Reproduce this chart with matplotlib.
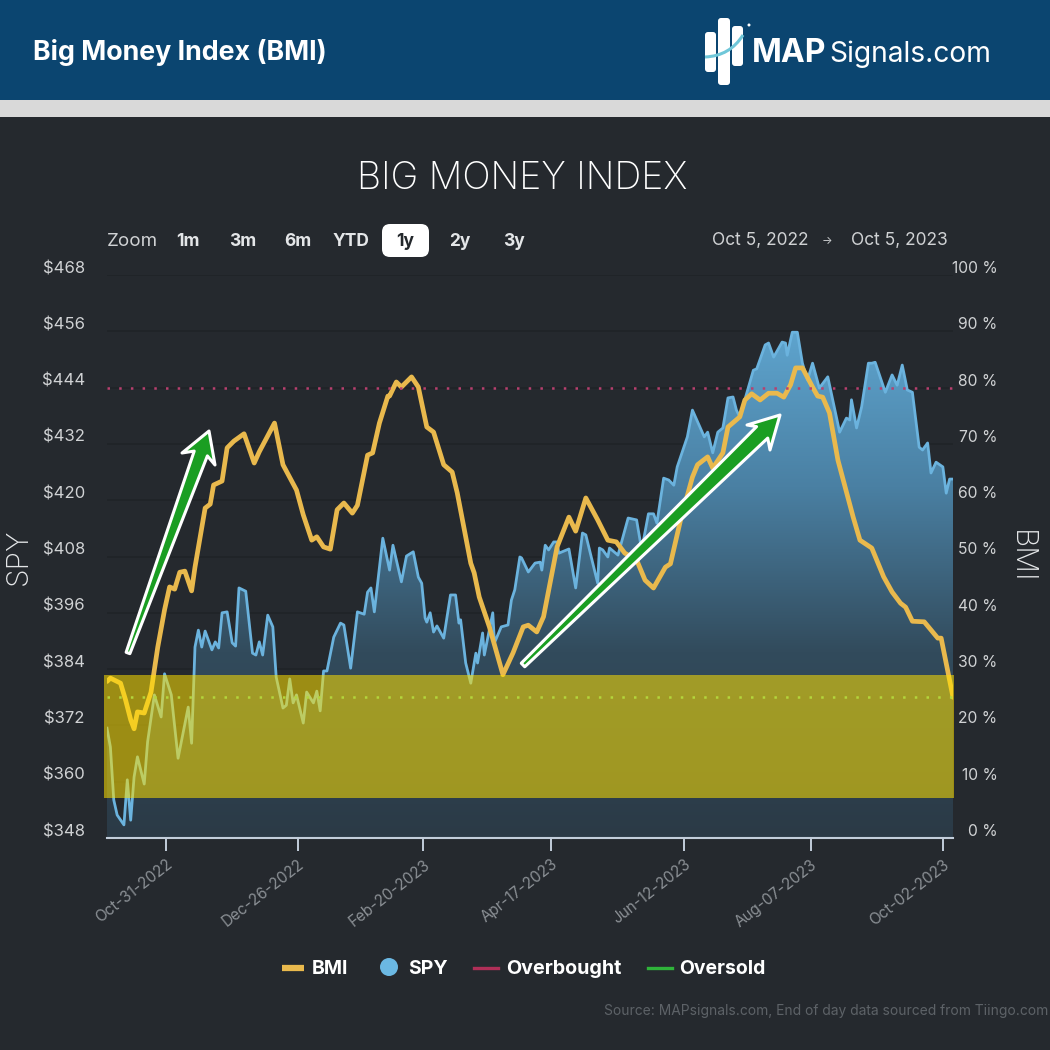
import matplotlib
matplotlib.use("Agg")
import matplotlib.pyplot as plt
import numpy as np
from matplotlib.patches import Rectangle, FancyBboxPatch, Circle, Polygon, PathPatch
from matplotlib.path import Path
from matplotlib.transforms import ScaledTranslation

plt.rcParams['font.family'] = ['Inter', 'DejaVu Sans']

# x positions are trading sessions counted from Oct 5, 2022
spy_x = [0, 1, 2, 3, 5, 6, 7, 8, 9, 11, 12, 14, 16, 17, 19, 21, 24, 25, 26, 27, 28, 29, 31, 32, 33, 34, 35.5, 37, 38, 39,
         41, 43, 44, 45, 46, 47.5, 49, 50, 52, 53, 54, 55, 56, 58, 59, 61, 62, 63, 64, 65, 67, 69, 70, 72, 74, 76, 77, 78, 79,
         81.5, 83.5, 84.5, 87, 88.5, 90.5, 92, 93, 94, 94.5, 95.5, 96.5, 97.5, 99.5, 101.5, 103, 104, 104.5, 106, 107.5,
         109, 109.5, 111, 111.5, 114, 114.5, 116.5, 118.5, 119.5, 120.5, 122, 122.5, 124.5, 126.5, 128, 128.5, 129.5, 130.5,
         132, 133, 133.5, 136.5, 138.5, 140.5, 141.5, 145, 145.5, 146.5, 148, 148.5, 151, 154, 156.5, 158, 160, 161.5, 162.5,
         164.5, 166, 167.5, 168.5, 171.5, 173, 176.5, 177.5, 179, 180.5, 182, 183.5, 185, 186, 187, 191, 192, 194.5, 195.5,
         197, 199.5, 200.5, 201, 202.5, 204, 205.5, 207, 208.5, 210.5, 213, 216.5, 218.5, 219.5, 220, 221.5, 223, 225, 226,
         227, 230, 232, 233.5, 235, 236.5, 238, 240, 241, 242.5, 243.5, 245, 247, 248, 249, 250]
spy_close = [371.4, 367.4, 356.1, 352.9, 350.8, 360.4, 351.8, 361, 365.3, 359.5, 368.5, 378.5, 373.8, 383, 378.5, 365, 375.9, 368.2, 388.7, 392.3, 388.7, 392.1, 388.1, 389.8, 388.5, 396, 396.2, 389.6, 388.9, 401.3,
             400.6, 387.4, 387, 389.8, 387, 395.5, 393, 382.3, 375.7, 376.3, 381.9, 376.8, 378.5, 372.5, 379.1, 376.8, 379.3, 375.1, 383.6, 383.6, 390.8, 393.8, 393.4, 384.2, 396.2, 395.7, 400.4, 401.3, 396.2,
             411.9, 405.1, 410.4, 402.6, 408.1, 409, 403.6, 402.3, 394.9, 394, 396, 391.9, 393.2, 390.6, 399.8, 399.8, 393.8, 394.5, 385.3, 381,
             387.4, 385.3, 391.7, 387, 396, 389.6, 393, 393.4, 398.7, 400.9, 407.9, 407.7, 404.7, 406.6, 406.8, 405.1, 410.4, 409.4,
             411.1, 411.1, 408.7, 409.6, 401.3, 413, 412.6, 402.3, 409.8, 409.4, 407.9, 409.8, 408.3, 416.2, 415.8, 409.4, 417.1, 417.1, 415.1,
             424.7, 424.3, 423.2, 427.1, 433.5, 439.2, 433.5, 434.5, 430.1, 434.5, 435.4, 441.8, 442, 439.2, 437.7, 447.7, 448, 453.1, 453.5,
             450.5, 453.7, 453.5, 450.9, 455.8, 455.8, 449.2, 445.6, 449.2, 443.9, 446.3, 434.5, 437.5, 437.1, 441.4, 435.4, 439.9, 449.2, 449.2,
             449.4, 443, 446.7, 444.5, 448.8, 443.5, 443, 431.3, 430.7, 432.2, 425.8, 428.1, 427.1, 421.5, 424.5, 424.5]

bmi_x = [0, 1, 4, 5.5, 7, 8, 9, 11, 13, 15, 17, 18.5, 20, 21.5, 23, 25, 26, 29, 30.5, 31.5, 34, 35.5, 37.5, 40.5, 43.5, 45, 49.5, 52,
         56, 58, 60.5, 62, 64, 66, 68, 70, 72.5, 74, 77, 78.5, 80.5, 83, 83.5, 85.5, 87, 90, 92, 94.5, 96.5, 99.5, 102, 103.5,
         107.5, 108.5, 110, 113, 117, 120, 123, 124.5, 127, 129, 133, 136.5, 138.5, 141.5, 145, 148, 150.5, 153, 156.5, 159, 161.5,
         165, 166.5, 169.5, 173, 174.5, 177.5, 179, 182, 183.5, 187, 188.5, 190.5, 193, 195.5, 198, 200, 202, 203.5, 205.5, 208.5,
         210, 211.5, 213.5, 216, 220.5, 222.5, 226, 229.5, 232, 234.5, 236, 238, 241.5, 245.5, 246.5, 250]
bmi_value = [27.8, 28.4, 27.5, 24.5, 21, 19.4, 22.4, 22.2, 25.9, 33.9, 40.5, 44.6, 44.2, 47.2, 47.4, 43.9, 48.1, 58.6, 59.3, 62.7, 63.4, 69.3, 70.5, 71.8, 66.6, 68.6, 73.7, 66.3,
             61.8, 57.4, 52.9, 53.5, 51.7, 51.3, 58.3, 59.5, 57.7, 59.1, 68, 68.4, 73.7, 78.5, 78.5, 81, 80.1, 81.9, 80.1, 73, 72.1, 66.3, 65, 61.3,
             48.8, 47.1, 42.8, 37.5, 29, 32.9, 37.5, 37.8, 36.6, 39.3, 51.7, 57, 54.5, 60.4, 56.5, 52.9, 52.6, 50.6, 49.4, 45.8, 44.4,
             48.1, 48.7, 56.5, 64.1, 66.3, 67.7, 65.7, 68.4, 73, 74.8, 77.8, 78.9, 77.8, 79, 79, 78.3, 80.5, 83.5, 83.5, 80.1,
             78.5, 78.3, 75.5, 67.1, 57, 52.9, 51.5, 46.4, 43.7, 41.7, 41, 38.5, 38.4, 35.5, 35.5, 25]

date_ticks = [17.4, 56.4, 93.4, 131.2, 170.5, 208, 247]
date_labels = ['Oct-31-2022', 'Dec-26-2022', 'Feb-20-2023', 'Apr-17-2023', 'Jun-12-2023', 'Aug-07-2023', 'Oct-02-2023']
spy_ticks = [348, 360, 372, 384, 396, 408, 420, 432, 444, 456, 468]
bmi_ticks = [0, 10, 20, 30, 40, 50, 60, 70, 80, 90, 100]
overbought = 80
oversold = 25
band_low, band_high = 7.1, 29

BG = '#25292e'
GRID = '#1f2327'
TXT = '#e4e6e8'

fig = plt.figure(figsize=(10.5, 10.5), dpi=100, facecolor=BG)

# backdrop in pixel coordinates: header, title, zoom buttons, legend
deco = fig.add_axes([0, 0, 1, 1], zorder=0)
deco.set_xlim(0, 1050)
deco.set_ylim(1050, 0)
deco.axis('off')
deco.add_patch(Rectangle((0, 0), 1050, 100, color='#0b4570', lw=0))
deco.add_patch(Rectangle((0, 100), 1050, 17, color='#d9d9d9', lw=0))
deco.text(33, 53, 'Big Money Index (BMI)', color='white', fontsize=19.3, fontweight='bold', va='center')

# logo
for bx, by, bw, bh in [(705, 32, 11, 40), (718, 18, 12, 67), (732, 26, 11, 40)]:
    deco.add_patch(FancyBboxPatch((bx + 3, by + 3), bw - 6, bh - 6, boxstyle='round,pad=3', color='white', lw=0))
deco.add_patch(PathPatch(Path([(705, 57), (730, 56), (743, 35)], [Path.MOVETO, Path.CURVE3, Path.CURVE3]),
                         fc='none', ec='#6fc7d9', lw=2.2))
deco.add_patch(Circle((749, 25), 1.5, color='white', lw=0))
deco.text(752, 54, 'MAP', color='white', fontsize=23, fontweight='bold', va='center')
deco.text(829, 54, 'Signals.com', color='white', fontsize=20.3, va='center')

deco.text(522, 179, 'BIG MONEY INDEX', color='white', fontsize=27, fontweight='light', ha='center', va='center')
deco.text(107, 242, 'Zoom', color='#d0d2d4', fontsize=13.5, va='center')
for cx, lab in zip([188, 243, 298, 351, 460, 514], ['1m', '3m', '6m', 'YTD', '2y', '3y']):
    deco.text(cx, 242, lab, color=TXT, fontsize=12.5, fontweight='bold', ha='center', va='center')
deco.add_patch(FancyBboxPatch((390, 232), 31, 17, boxstyle='round,pad=8', color='white', lw=0))
deco.text(405, 242, '1y', color='#23272b', fontsize=12.5, fontweight='bold', ha='center', va='center')
deco.text(712, 241, 'Oct 5, 2022', color='#d0d2d4', fontsize=12.5, va='center')
deco.text(827, 241, '→', color='#d0d2d4', fontsize=8, ha='center', va='center')
deco.text(851, 241, 'Oct 5, 2023', color='#d0d2d4', fontsize=12.5, va='center')
deco.text(19, 557, 'SPY', color=TXT, fontsize=21.5, fontweight='light', rotation=90, ha='center', va='center')
deco.text(1021, 557, 'BMI', color=TXT, fontsize=21.5, fontweight='light', rotation=270, ha='center', va='center')

# legend
deco.plot([282, 304], [968, 968], color='#e9b94d', lw=4.5, solid_capstyle='butt')
deco.text(312, 969, 'BMI', color='white', fontsize=14, fontweight='bold', va='center')
deco.add_patch(Circle((389, 967), 9, color='#6bb8e3', lw=0))
deco.text(408, 969, 'SPY', color='white', fontsize=14, fontweight='bold', va='center')
deco.plot([474, 498], [968, 968], color='#b02f58', lw=2.4)
deco.text(506, 969, 'Overbought', color='white', fontsize=14.2, fontweight='bold', va='center')
deco.plot([648, 672], [968, 968], color='#2fb33a', lw=2.4)
deco.text(679, 969, 'Oversold', color='white', fontsize=14, fontweight='bold', va='center')
deco.text(1048, 1011, 'Source: MAPsignals.com, End of day data sourced from Tiingo.com', color='#5d6267',
          fontsize=9.95, ha='right', va='center')

# price axis
ax = fig.add_axes([107 / 1050, 212 / 1050, 846 / 1050, 563 / 1050], zorder=1)
ax.patch.set_alpha(0)
ax.set_xlim(0, 250)
ax.set_ylim(348, 468)
fill = ax.fill_between(spy_x, spy_close, 348, color='none', lw=0)
rows = np.linspace(0, 1, 256)
stops = [0, 0.306, 0.634, 1]
colors = np.ones((256, 1, 4))
colors[:, 0, 0] = np.interp(rows, stops, [0x5e, 0x4a, 0x32, 0x2b]) / 255
colors[:, 0, 1] = np.interp(rows, stops, [0xa4, 0x80, 0x4b, 0x3a]) / 255
colors[:, 0, 2] = np.interp(rows, stops, [0xce, 0xa3, 0x5c, 0x46]) / 255
im = ax.imshow(colors, extent=[0, 250, 348, 456], origin='upper', aspect='auto', zorder=1)
im.set_clip_path(fill.get_paths()[0], transform=ax.transData)
ax.set_xlim(0, 250)
ax.set_ylim(348, 468)
ax.plot(spy_x, spy_close, color='#6bb3de', lw=2, zorder=2, solid_joinstyle='round')
ax.set_yticks(spy_ticks)
ax.set_yticklabels([f'${v}' for v in spy_ticks])
ax.set_axisbelow(True)
ax.grid(axis='y', color=GRID, lw=1.2)
ax.tick_params(axis='y', length=0, pad=16, labelsize=12, labelcolor='#d0d2d4')
ax.set_xticks(date_ticks)
ax.set_xticklabels(date_labels, rotation=38, ha='right', rotation_mode='anchor')
ax.tick_params(axis='x', length=9.5, width=1.4, color='#c3cedb', labelsize=11, labelcolor='#8a8f94', pad=4)
for s in ['top', 'left', 'right']:
    ax.spines[s].set_visible(False)
ax.spines['bottom'].set_color('#c3cedb')
ax.spines['bottom'].set_linewidth(1.5)

# BMI axis
ax2 = ax.twinx()
ax2.patch.set_alpha(0)
ax2.set_ylim(0, 100)
ax2.plot(bmi_x, bmi_value, color='#e9b94d', lw=3.4, zorder=3, solid_joinstyle='round', solid_capstyle='round')
ax2.axhline(overbought, color='#b8406f', lw=1.8, ls=(0, (1, 3.68)), zorder=4)
ax2.add_patch(Rectangle((-1, band_low), 251.3, band_high - band_low, fc='#ffe100', alpha=0.55, lw=0, zorder=5, clip_on=False))
ax2.axhline(oversold, color='#b4d63c', lw=1.8, ls=(0, (1, 3.68)), zorder=6)
ax2.set_yticks(bmi_ticks)
ax2.set_yticklabels([f'{v} %' for v in bmi_ticks], ha='right')
ax2.tick_params(axis='y', length=0, pad=32, labelsize=11.3, labelcolor='#d0d2d4')
for s in ax2.spines.values():
    s.set_visible(False)

# tick labels sit just above their grid lines
shift = ScaledTranslation(0, 8 / 100, fig.dpi_scale_trans)
for lab in ax.get_yticklabels() + ax2.get_yticklabels():
    lab.set_transform(lab.get_transform() + shift)


# hand-drawn green arrows on top
def draw_arrow(start, tip, corner_a, corner_b, w0, w1):
    start, tip = np.array(start, float), np.array(tip, float)
    d = (tip - start) / np.linalg.norm(tip - start)
    n = np.array([-d[1], d[0]])
    neck = tip - d * 0.8 * np.dot(tip - (np.array(corner_a) + np.array(corner_b)) / 2, d)
    pts = [start + n * w0, neck + n * w1, corner_b, tip, corner_a, neck - n * w1, start - n * w0]
    over.add_patch(Polygon(pts, closed=True, fc='#1a9e22', ec='white', lw=2.2, joinstyle='round'))


over = fig.add_axes([0, 0, 1, 1], zorder=2)
over.set_xlim(0, 1050)
over.set_ylim(1050, 0)
over.axis('off')
draw_arrow((128, 653), (209, 431), (182, 453), (215, 465), 2, 7)
draw_arrow((523, 665), (780, 415), (747, 425), (770, 450), 2.5, 8)

fig.savefig('out.png', dpi=100, facecolor=BG)
